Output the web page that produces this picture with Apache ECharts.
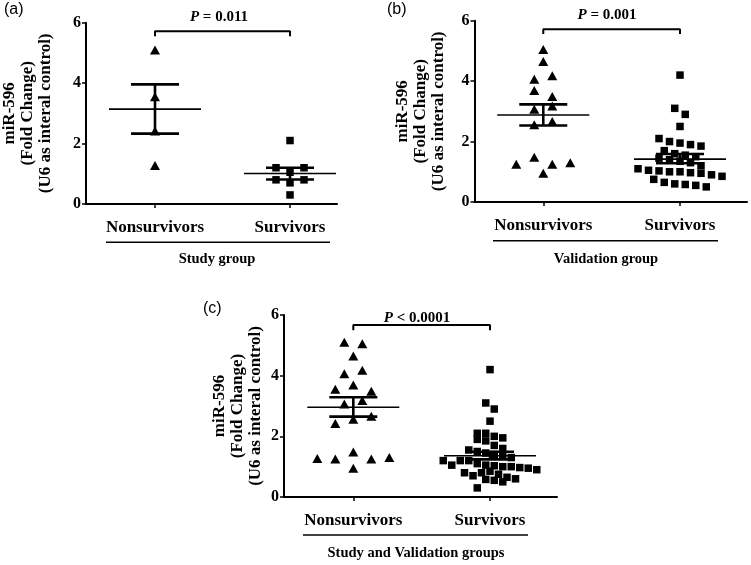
<!DOCTYPE html>
<html><head><meta charset="utf-8">
<script src="https://cdn.jsdelivr.net/npm/echarts@6/dist/echarts.min.js"></script>
<style>html,body{margin:0;padding:0;background:#fff}#c{width:751px;height:565px}</style>
</head><body><div id="c"></div>
<script>
// ---------- data ----------
const categories = ['Nonsurvivors', 'Survivors'];
const yTicks = [0, 2, 4, 6];
const studyNonsurvivors = [5.1, 3.55, 2.42, 1.27];
const studySurvivors = [2.1, 1.2, 1.05, 1.2, 0.8, 0.7, 0.8, 0.3];
const validationNonsurvivors = [5.05, 4.65, 4.06, 4.18, 3.69, 3.49, 3.07, 3.18, 2.56, 2.66, 1.25, 1.48, 1.25, 1.30, 0.95];
const validationSurvivors = [4.2, 3.1, 2.9, 2.5, 2.1, 2.0, 1.95, 1.9, 1.85, 1.7, 1.6, 1.55, 1.5, 1.45, 1.4, 1.35, 1.3,
  1.2, 1.1, 1.05, 1.03, 1.0, 1.0, 0.97, 0.95, 0.9, 0.85, 0.75, 0.65, 0.6, 0.58, 0.55, 0.5];
const combinedNonsurvivors = studyNonsurvivors.concat(validationNonsurvivors);
const combinedSurvivors = studySurvivors.concat(validationSurvivors);
// mean, lower SEM, upper SEM as drawn (Nonsurvivors, Survivors)
const studyStats = [[3.14, 2.33, 3.96], [1.01, 0.81, 1.2]];
const validationStats = [[2.88, 2.53, 3.23], [1.42, 1.28, 1.59]];
const combinedStats = [[2.96, 2.65, 3.29], [1.36, 1.24, 1.49]];
const pOperators = ['=', '=', '<'];
const pValues = ['0.011', '0.001', '0.0001'];
const bracketTop = [5.72, 5.72, 5.67];
const bracketFoot = [5.55, 5.56, 5.5];
const groupNames = ['Study group', 'Validation group', 'Study and Validation groups'];
const panelLetters = ['(a)', '(b)', '(c)'];
const yName = 'miR-596\n(Fold Change)\n(U6 as interal control)';

// ---------- layout ----------
const SERIF = 'Liberation Serif';
const panels = [
  {grid: {left: 86, top: 22.7, width: 251, height: 181.3}, xMin: 0.489, xMax: 2.348, nameGap: 31,
   groups: [studyNonsurvivors, studySurvivors], stats: studyStats, steps: [18, 14], bins: [0.25, 0.25],
   letter: [4, 2], pText: [219, 17], underline: [106, 330, 242.3], group: [217, 259]},
  {grid: {left: 474.5, top: 20.7, width: 272.5, height: 181.3}, xMin: 0.497, xMax: 2.49, nameGap: 27,
   groups: [validationNonsurvivors, validationSurvivors], stats: validationStats, steps: [18, 10.5], bins: [0.25, 0.3],
   letter: [387, 2], pText: [607, 15], underline: [493, 718, 240.7], group: [606, 259]},
  {grid: {left: 284, top: 315, width: 273, height: 182}, xMin: 0.493, xMax: 2.49, nameGap: 19,
   groups: [combinedNonsurvivors, combinedSurvivors], stats: combinedStats, steps: [18, 8.5], bins: [0.25, 0.3],
   letter: [203, 301], pText: [417, 318], underline: [303, 528, 535], group: [416, 553]}
];

function swarm(values, binH, step) {
  const idx = values.map((v, i) => i).sort((a, b) => values[a] - values[b]);
  const off = new Array(values.length).fill(0);
  let row = [], start = 0;
  const flush = () => {
    const m = row.slice().sort((a, b) => a - b);
    const n = m.length;
    m.forEach((k, j) => { off[k] = (j - (n - 1) / 2) * step; });
    row = [];
  };
  idx.forEach(i => {
    if (row.length && values[i] - start >= binH) flush();
    if (!row.length) start = values[i];
    row.push(i);
  });
  if (row.length) flush();
  return off;
}

const grids = [], xAxes = [], yAxes = [], series = [], graphics = [];
panels.forEach((p, pi) => {
  const ppu = p.grid.width / (p.xMax - p.xMin);
  grids.push(p.grid);
  xAxes.push({
    type: 'value', gridIndex: pi, min: p.xMin, max: p.xMax,
    splitLine: {show: false},
    axisLine: {show: true, lineStyle: {color: '#000', width: 2}},
    axisTick: {show: true, customValues: [1, 2], length: 4, lineStyle: {color: '#000', width: 1.5}},
    axisLabel: {customValues: [1, 2], formatter: v => categories[Math.round(v) - 1] || '',
      margin: 15, color: '#000', fontFamily: SERIF, fontWeight: 'bold', fontSize: 17}
  });
  yAxes.push({
    type: 'value', gridIndex: pi, min: 0, max: 6, interval: 2,
    splitLine: {show: false},
    axisLine: {show: true, lineStyle: {color: '#000', width: 2}},
    axisTick: {show: true, length: 4, lineStyle: {color: '#000', width: 1.5}},
    axisLabel: {margin: 5, color: '#000', fontFamily: SERIF, fontWeight: 'bold', fontSize: 16,
      formatter: v => yTicks.includes(v) ? String(v) : ''},
    name: yName, nameLocation: 'middle', nameRotate: 90, nameGap: p.nameGap, nameMoveOverlap: false,
    nameTextStyle: {color: '#000', fontFamily: SERIF, fontWeight: 'bold', fontSize: 17, lineHeight: 18}
  });
  p.groups.forEach((vals, gi) => {
    const off = swarm(vals, p.bins[gi], p.steps[gi] / ppu);
    series.push({
      type: 'scatter', xAxisIndex: pi, yAxisIndex: pi,
      symbol: gi === 0 ? 'triangle' : 'rect',
      symbolSize: gi === 0 ? [10, 9] : 7.5,
      itemStyle: {color: '#000', opacity: 1},
      data: vals.map((v, i) => [gi + 1 + off[i], v]),
      z: 2, silent: true
    });
  });
  const hw = 46 / ppu, sw = 24 / ppu;
  series.push({
    type: 'custom', xAxisIndex: pi, yAxisIndex: pi, z: 3, silent: true,
    data: p.stats.map((s, i) => [i + 1, s[0], s[1], s[2]]),
    renderItem: (params, api) => {
      const x = api.value(0), m = api.value(1), lo = api.value(2), hi = api.value(3);
      const seg = (x1, y1, x2, y2, w) => {
        const a = api.coord([x1, y1]), b = api.coord([x2, y2]);
        return {type: 'line', shape: {x1: a[0], y1: a[1], x2: b[0], y2: b[1]}, style: {stroke: '#000', lineWidth: w}};
      };
      return {type: 'group', children: [
        seg(x - hw, m, x + hw, m, 1.6),
        seg(x - sw, hi, x + sw, hi, 2.6),
        seg(x - sw, lo, x + sw, lo, 2.6),
        seg(x, lo, x, hi, 2.6)
      ]};
    }
  });
  series.push({
    type: 'line', xAxisIndex: pi, yAxisIndex: pi, symbol: 'none', silent: true,
    lineStyle: {color: '#000', width: 2},
    data: [[1, bracketFoot[pi]], [1, bracketTop[pi]], [2, bracketTop[pi]], [2, bracketFoot[pi]]]
  });
  graphics.push({type: 'text', left: p.letter[0], top: p.letter[1],
    style: {text: panelLetters[pi], font: '16px "Liberation Sans"', fill: '#000'}});
  graphics.push({type: 'text', x: p.pText[0], y: p.pText[1],
    style: {text: '{i|P} ' + pOperators[pi] + ' ' + pValues[pi], textAlign: 'center', textVerticalAlign: 'middle',
      font: 'bold 15px "Liberation Serif"', fill: '#000',
      rich: {i: {fontStyle: 'italic', fontWeight: 'bold', fontSize: 15, fontFamily: SERIF}}}});
  graphics.push({type: 'line', shape: {x1: p.underline[0], y1: p.underline[2], x2: p.underline[1], y2: p.underline[2]},
    style: {stroke: '#000', lineWidth: 1.5}});
  graphics.push({type: 'text', x: p.group[0], y: p.group[1],
    style: {text: groupNames[pi], textAlign: 'center', textVerticalAlign: 'middle',
      font: 'bold 14.5px "Liberation Serif"', fill: '#000'}});
});

const chart = echarts.init(document.getElementById('c'), null, {renderer: 'canvas'});
chart.setOption({
  animation: false,
  backgroundColor: '#fff',
  grid: grids, xAxis: xAxes, yAxis: yAxes, series: series, graphic: graphics
});
</script>
</body></html>
